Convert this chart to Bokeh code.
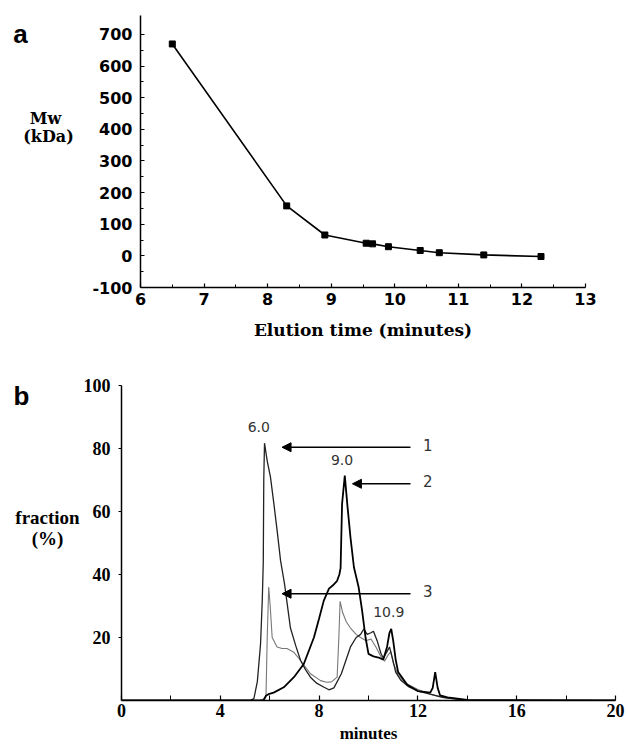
from bokeh.plotting import figure
from bokeh.models import FixedTicker, Label, Arrow, NormalHead, Range1d
from bokeh.layouts import column, row
from bokeh.embed import file_html
from bokeh.resources import INLINE

# ---------------- Panel a data ----------------
mw_time = [6.5, 8.3, 8.9, 9.55, 9.65, 9.9, 10.4, 10.7, 11.4, 12.3]
mw_kda = [670, 158, 66, 40, 38, 29, 17, 10, 3, -2]
a_xticks = [6, 7, 8, 9, 10, 11, 12, 13]
a_yticks = [-100, 0, 100, 200, 300, 400, 500, 600, 700]

# ---------------- Panel b data ----------------
c1_x = [0, 5.2, 5.36, 5.5, 5.63, 5.7, 5.74, 5.76, 5.79, 5.9, 6.03, 6.17, 6.3, 6.44, 6.6, 6.84,
        7.05, 7.25, 7.45, 7.65, 7.9, 8.2, 8.4, 8.6, 8.9, 9.27, 9.5, 9.68, 9.81, 9.95, 10.1, 10.2,
        10.35, 10.5, 10.6, 10.75, 10.85, 10.95, 11.1, 11.3, 11.6, 12.0, 12.5, 13.0, 13.5, 14.0, 20]
c1_y = [0, 0, 0.6, 6, 18, 32, 44, 70, 81.7, 76, 71, 62.4, 54, 44.4, 37, 23,
        17.5, 12.7, 9.8, 7.4, 5.5, 4.2, 3.4, 4.0, 8.5, 17, 20, 21, 22.7, 21, 21.5, 22,
        19, 15, 13.5, 15.5, 17, 14, 9, 6.5, 4.5, 3, 2, 1, 0.5, 0, 0]

c2_x = [0, 5.75, 5.85, 5.95, 6.16, 6.57, 6.98, 7.38, 7.79, 8.0, 8.19, 8.4, 8.55, 8.73, 8.82,
        8.87, 8.93, 9.04, 9.14, 9.27, 9.41, 9.6, 9.74, 9.88, 10.0, 10.2, 10.45, 10.6, 10.75,
        10.85, 10.92, 11.0, 11.1, 11.2, 11.57, 12.0, 12.5, 12.6, 12.7, 12.8, 12.9, 13.2, 13.6,
        14.0, 20]
c2_y = [0, 0, 1.5, 2, 2.5, 4.2, 7.4, 11.6, 20, 26, 31.7, 35.5, 36.5, 38, 40,
        42, 62.4, 71.4, 62.4, 51.8, 42.3, 36, 28.6, 20, 14.8, 14, 13.5, 13, 17,
        21.5, 22.7, 19, 13, 9, 5, 3, 2.5, 4, 9, 4, 1.6, 1, 0.6,
        0.2, 0]

c3_x = [0, 5.6, 5.75, 5.85, 5.9, 5.96, 6.02, 6.1, 6.3, 6.5, 6.7, 6.98, 7.25, 7.65, 8.06,
        8.3, 8.5, 8.73, 8.8, 8.85, 8.95, 9.1, 9.27, 9.5, 9.68, 9.9, 10.1, 10.3, 10.5, 10.65,
        10.8, 10.9, 11.0, 11.2, 11.5, 12.0, 12.5, 13.0, 13.5, 14.0, 20]
c3_y = [0, 0, 0.5, 1.5, 20, 36, 30, 20, 17, 16.5, 16.5, 15.3, 12.7, 8.5, 6.3,
        5.8, 5.9, 7.4, 20, 31.5, 28, 25, 23, 21, 20, 19, 19.5, 17, 14, 12.5,
        14.5, 15.5, 12, 8, 5.5, 3.5, 2, 1, 0.5, 0, 0]

b_xticks = [0, 4, 8, 12, 16, 20]
b_xminor = [2, 6, 10, 14, 18]
b_yticks = [20, 40, 60, 80, 100]

peak_text = ["6.0", "9.0", "10.9"]
peak_x = [5.56, 8.93, 10.82]
peak_y = [86.8, 76.2, 28.0]

arrow_names = ["1", "2", "3"]
arrow_y = [80.4, 68.8, 33.9]
arrow_x_start = [11.7, 11.7, 11.7]
arrow_x_end = [6.5, 9.35, 6.5]
arrow_label_x = [12.4, 12.4, 12.4]

SERIF_A = "DejaVu Serif"
SERIF_B = "Liberation Serif"
LAB_W = 80


def text_panel(height):
    f = figure(width=LAB_W, height=height, x_range=Range1d(0, LAB_W), y_range=Range1d(0, height),
               x_axis_type=None, y_axis_type=None, output_backend="svg", toolbar_location=None,
               min_border=0)
    f.outline_line_color = None
    f.grid.visible = False
    return f


# ---------------- Panel a ----------------
HA = 370
pa = figure(width=628 - LAB_W, height=HA, x_range=Range1d(6, 13), y_range=Range1d(-100, 760),
            output_backend="svg", toolbar_location=None,
            min_border_left=140 - LAB_W, min_border_right=43, min_border_top=15, min_border_bottom=83)
pa.outline_line_color = None
pa.grid.visible = False

pa.xaxis.ticker = FixedTicker(ticks=a_xticks, minor_ticks=[t + 0.5 for t in a_xticks[:-1]])
pa.yaxis.ticker = FixedTicker(ticks=a_yticks, minor_ticks=[t + 50 for t in a_yticks[:-1]])
pa.yaxis.major_label_overrides = {-100: "-100"}
for ax in (pa.xaxis[0], pa.yaxis[0]):
    ax.axis_line_width = 1.5
    ax.axis_line_color = "black"
    ax.major_tick_in = 4
    ax.major_tick_out = 0
    ax.minor_tick_in = 3
    ax.minor_tick_out = 0
    ax.major_tick_line_color = "black"
    ax.minor_tick_line_color = "black"
    ax.major_tick_line_width = 1.2
    ax.major_label_text_font = "DejaVu Sans"
    ax.major_label_text_font_style = "bold"
    ax.major_label_text_font_size = "16px"
    ax.major_label_text_color = "black"
pa.xaxis.major_label_standoff = 5
pa.yaxis.major_label_standoff = 8
pa.xaxis.axis_label = "Elution time (minutes)"
pa.xaxis.axis_label_text_font = SERIF_A
pa.xaxis.axis_label_text_font_style = "bold"
pa.xaxis.axis_label_text_font_size = "17px"
pa.xaxis.axis_label_standoff = 12
pa.xaxis.axis_label_text_color = "black"

pa.line(mw_time, mw_kda, line_color="black", line_width=1.6)
pa.scatter(mw_time, mw_kda, marker="square", size=6, fill_color="black", line_color="black")

la = text_panel(HA)
la.add_layout(Label(x=45, y=HA - 140, text="Mw", text_font=SERIF_A, text_font_style="bold",
                    text_font_size="16px", text_color="black", text_align="center",
                    text_baseline="middle"))
la.add_layout(Label(x=48, y=HA - 165, text="(kDa)", text_font=SERIF_A, text_font_style="bold",
                    text_font_size="16px", text_color="black", text_align="center",
                    text_baseline="middle"))
la.add_layout(Label(x=20, y=HA - 25, text="a", text_font="Liberation Sans", text_font_style="bold",
                    text_font_size="26px", text_color="black", text_align="center",
                    text_baseline="middle"))

# ---------------- Panel b ----------------
HB = 752 - HA
pb = figure(width=628 - LAB_W, height=HB, x_range=Range1d(0, 20), y_range=Range1d(0, 100),
            output_backend="svg", toolbar_location=None,
            min_border_left=121 - LAB_W, min_border_right=13, min_border_top=15, min_border_bottom=52)
pb.outline_line_color = None
pb.grid.visible = False

pb.xaxis.ticker = FixedTicker(ticks=b_xticks, minor_ticks=b_xminor)
pb.yaxis.ticker = FixedTicker(ticks=b_yticks, minor_ticks=[])
for ax in (pb.xaxis[0], pb.yaxis[0]):
    ax.axis_line_width = 1.5
    ax.axis_line_color = "black"
    ax.major_tick_line_color = "black"
    ax.minor_tick_line_color = "black"
    ax.major_tick_line_width = 1.2
    ax.major_label_text_font = SERIF_B
    ax.major_label_text_font_style = "bold"
    ax.major_label_text_font_size = "18px"
    ax.major_label_text_color = "black"
pb.xaxis.major_tick_in = 5
pb.xaxis.major_tick_out = 0
pb.xaxis.minor_tick_in = 5
pb.xaxis.minor_tick_out = 0
pb.xaxis.major_label_standoff = 3
pb.yaxis.major_tick_in = 0
pb.yaxis.major_tick_out = 3
pb.yaxis.major_label_standoff = 8
pb.xaxis.axis_label = "minutes"
pb.xaxis.axis_label_text_font = SERIF_B
pb.xaxis.axis_label_text_font_style = "bold"
pb.xaxis.axis_label_text_font_size = "17px"
pb.xaxis.axis_label_standoff = 4
pb.xaxis.axis_label_text_color = "black"

pb.line(c3_x, c3_y, line_color="#777777", line_width=1.1)
pb.line(c1_x, c1_y, line_color="#222222", line_width=1.3)
pb.line(c2_x, c2_y, line_color="black", line_width=1.8)

for t, x, y in zip(peak_text, peak_x, peak_y):
    pb.add_layout(Label(x=x, y=y, text=t, text_font="DejaVu Sans", text_font_size="14px",
                        text_color="#333333", text_align="center", text_baseline="middle"))

for name, y, xs, xe, lx in zip(arrow_names, arrow_y, arrow_x_start, arrow_x_end, arrow_label_x):
    pb.add_layout(Arrow(end=NormalHead(size=9, fill_color="black", line_color="black"),
                        x_start=xs, y_start=y, x_end=xe, y_end=y,
                        line_color="black", line_width=1.5))
    pb.add_layout(Label(x=lx, y=y + 0.8, text=name, text_font="DejaVu Sans", text_font_size="15px",
                        text_color="#333333", text_align="center", text_baseline="middle"))

lb = text_panel(HB)
lb.add_layout(Label(x=47, y=752 - 530, text="fraction", text_font=SERIF_B, text_font_style="bold",
                    text_font_size="19px", text_color="black", text_align="center",
                    text_baseline="middle"))
lb.add_layout(Label(x=47, y=752 - 555, text="(%)", text_font=SERIF_B, text_font_style="bold",
                    text_font_size="19px", text_color="black", text_align="center",
                    text_baseline="middle"))
lb.add_layout(Label(x=21, y=752 - 383, text="b", text_font="Liberation Sans", text_font_style="bold",
                    text_font_size="26px", text_color="black", text_align="center",
                    text_baseline="middle"))

layout = column(row(la, pa, spacing=0), row(lb, pb, spacing=0), spacing=0)
open("out.html", "w").write(file_html(layout, INLINE))
